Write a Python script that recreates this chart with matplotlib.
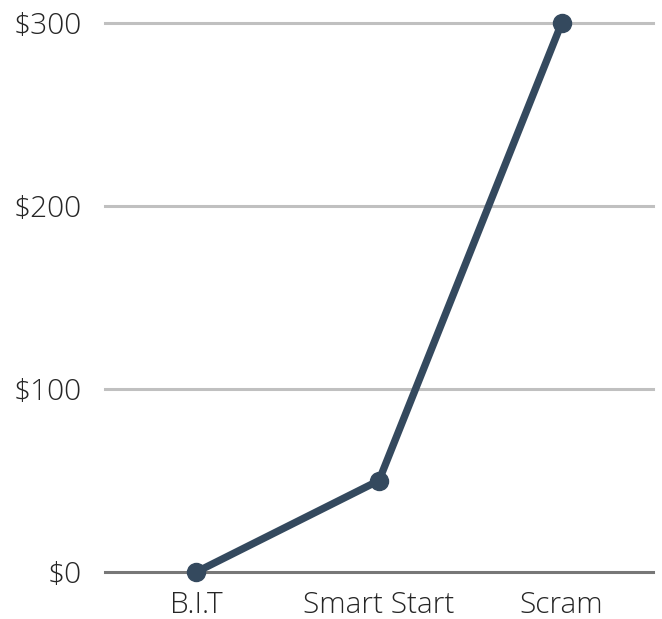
import matplotlib
matplotlib.use('Agg')
import matplotlib.pyplot as plt

categories = ['B.I.T', 'Smart Start', 'Scram']
prices = [0, 50, 300]
y_ticks = [0, 100, 200, 300]
y_labels = ['$0', '$100', '$200', '$300']

plt.rcParams['font.family'] = ['Open Sans', 'DejaVu Sans']

fig = plt.figure(figsize=(6.62, 6.19), dpi=100)
ax = fig.add_axes([0.1586, 0.0759, 0.8278, 0.8869])

# grid lines
for t in y_ticks[1:]:
    ax.axhline(t, color='#c0c0c0', linewidth=2.2, zorder=1, clip_on=False)
ax.axhline(0, color='#777777', linewidth=2.2, zorder=1, clip_on=False)

x = list(range(len(categories)))
ax.plot(x, prices, color='#34495e', linewidth=5.3, marker='o', markersize=13,
        solid_capstyle='round', zorder=3, clip_on=False)

ax.set_xlim(-0.5, 2.5)
ax.set_ylim(0, 300)
ax.set_xticks(x)
ax.set_xticklabels(categories)
ax.set_yticks(y_ticks)
ax.set_yticklabels(y_labels)
ax.tick_params(length=0, labelsize=21.5, labelcolor='#262626')
ax.tick_params(axis='y', pad=17)
ax.tick_params(axis='x', pad=13)
for lbl in ax.get_xticklabels() + ax.get_yticklabels():
    lbl.set_fontweight('light')
for s in ax.spines.values():
    s.set_visible(False)

fig.savefig('out.png', dpi=100)
